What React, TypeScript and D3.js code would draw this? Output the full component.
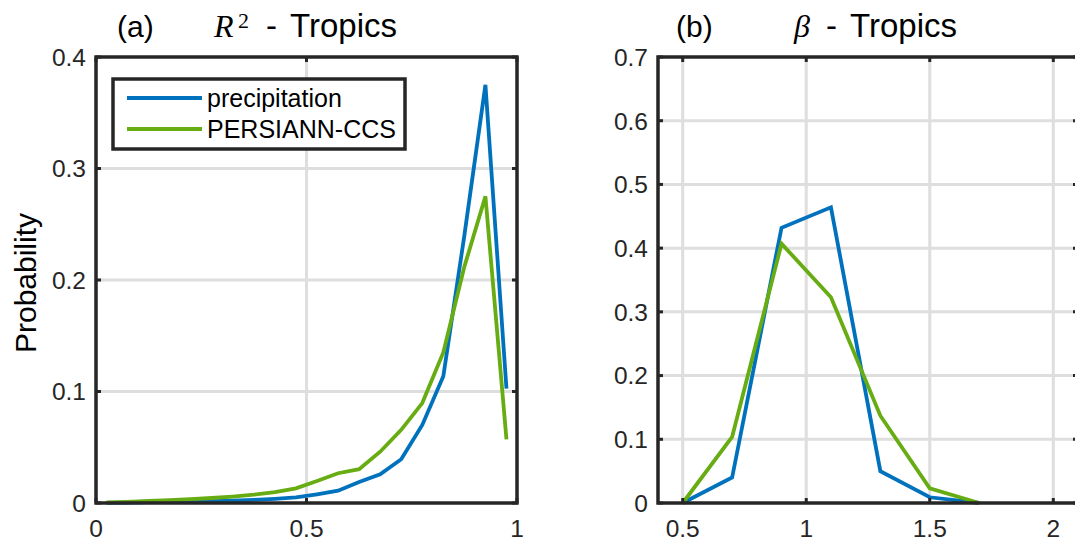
import React from "react";
import * as d3 from "d3";

// ---------- data ----------
const r2Bins = [0.025, 0.075, 0.125, 0.175, 0.225, 0.275, 0.325, 0.375, 0.425, 0.475, 0.525, 0.575, 0.625, 0.675, 0.725, 0.775, 0.825, 0.875, 0.925, 0.975];
const r2Precip = [0.0002, 0.0004, 0.0007, 0.001, 0.0013, 0.0017, 0.0022, 0.0028, 0.0037, 0.005, 0.0078, 0.011, 0.0189, 0.0258, 0.0393, 0.070, 0.1136, 0.24, 0.375, 0.1025];
const r2Persiann = [0.0005, 0.001, 0.0018, 0.0025, 0.0035, 0.0045, 0.0058, 0.0075, 0.0098, 0.0132, 0.0198, 0.0267, 0.0303, 0.046, 0.0656, 0.0896, 0.135, 0.212, 0.275, 0.057];

const betaBins = [0.5, 0.7, 0.9, 1.1, 1.3, 1.5, 1.7];
const betaPrecip = [0, 0.04, 0.432, 0.464, 0.05, 0.009, 0];
const betaPersiann = [0, 0.1036, 0.407, 0.323, 0.137, 0.023, 0];

const r2XTicks = [0, 0.5, 1];
const r2YTicks = [0, 0.1, 0.2, 0.3, 0.4];
const betaXTicks = [0.5, 1, 1.5, 2];
const betaYTicks = [0, 0.1, 0.2, 0.3, 0.4, 0.5, 0.6, 0.7];

const seriesNames = ["precipitation", "PERSIANN-CCS"];
const seriesColors = ["#0072BD", "#66AC12"];

// ---------- style ----------
const AX = "#262626";
const GRID = "#dedede";
const FONT = "'Liberation Sans', Arial, Helvetica, sans-serif";
const SERIF = "'Liberation Serif', 'Times New Roman', serif";
const TICK_FS = 24.5;
const TICK_LEN = 5;
const TITLE_FS = 33;

type PanelProps = {
  x0: number; x1: number; yTop: number; yBot: number;
  xDomain: [number, number]; yDomain: [number, number];
  xTicks: number[]; yTicks: number[];
  xs: number[]; series: number[][];
  id: string;
};

function Panel(p: PanelProps) {
  const x = d3.scaleLinear().domain(p.xDomain).range([p.x0, p.x1]);
  const y = d3.scaleLinear().domain(p.yDomain).range([p.yBot, p.yTop]);
  const line = d3.line<number>().x((_, i) => x(p.xs[i])).y((d) => y(d));
  const fmt = (v: number) => (v === 0 ? "0" : String(v));
  return (
    <g>
      <defs>
        <clipPath id={p.id}>
          <rect x={p.x0} y={p.yTop - 2} width={p.x1 - p.x0} height={p.yBot - p.yTop + 4} />
        </clipPath>
      </defs>
      {/* grid */}
      {p.xTicks.filter((t) => t > p.xDomain[0] && t < p.xDomain[1]).map((t) => (
        <line key={"gx" + t} x1={x(t)} x2={x(t)} y1={p.yTop} y2={p.yBot} stroke={GRID} strokeWidth={3} />
      ))}
      {p.yTicks.filter((t) => t > p.yDomain[0] && t < p.yDomain[1]).map((t) => (
        <line key={"gy" + t} x1={p.x0} x2={p.x1} y1={y(t)} y2={y(t)} stroke={GRID} strokeWidth={3} />
      ))}
      {/* data */}
      <g clipPath={`url(#${p.id})`}>
        {p.series.map((s, i) => (
          <path key={i} d={line(s) || ""} fill="none" stroke={seriesColors[i]} strokeWidth={3.8} strokeLinejoin="miter" />
        ))}
      </g>
      {/* ticks */}
      {p.xTicks.map((t) => (
        <g key={"tx" + t}>
          <line x1={x(t)} x2={x(t)} y1={p.yBot} y2={p.yBot - TICK_LEN} stroke={AX} strokeWidth={3} />
          <line x1={x(t)} x2={x(t)} y1={p.yTop} y2={p.yTop + TICK_LEN} stroke={AX} strokeWidth={3} />
          <text x={x(t)} y={p.yBot + 34} textAnchor="middle" fontFamily={FONT} fontSize={TICK_FS} fill={AX}>{fmt(t)}</text>
        </g>
      ))}
      {p.yTicks.map((t) => (
        <g key={"ty" + t}>
          <line x1={p.x0} x2={p.x0 + TICK_LEN} y1={y(t)} y2={y(t)} stroke={AX} strokeWidth={3} />
          <line x1={p.x1} x2={p.x1 - TICK_LEN} y1={y(t)} y2={y(t)} stroke={AX} strokeWidth={3} />
          <text x={p.x0 - 10} y={y(t)} dy="0.36em" textAnchor="end" fontFamily={FONT} fontSize={TICK_FS} fill={AX}>{fmt(t)}</text>
        </g>
      ))}
      {/* box */}
      <rect x={p.x0} y={p.yTop} width={p.x1 - p.x0} height={p.yBot - p.yTop} fill="none" stroke={AX} strokeWidth={3.5} />
    </g>
  );
}

export default function App() {
  return (
    <svg width={1075} height={548} style={{ position: "absolute", left: 0, top: 0, background: "#fff" }}>
      <rect width={1075} height={548} fill="#fff" />
      <Panel id="clipA" x0={96} x1={517} yTop={57} yBot={503}
        xDomain={[0, 1]} yDomain={[0, 0.4]}
        xTicks={r2XTicks} yTicks={r2YTicks}
        xs={r2Bins} series={[r2Precip, r2Persiann]} />
      <Panel id="clipB" x0={658} x1={1078} yTop={57} yBot={503}
        xDomain={[0.4, 2.1]} yDomain={[0, 0.7]}
        xTicks={betaXTicks} yTicks={betaYTicks}
        xs={betaBins} series={[betaPrecip, betaPersiann]} />

      {/* legend */}
      <g>
        <rect x={113} y={79} width={292} height={70} fill="#fff" stroke={AX} strokeWidth={3.5} />
        {seriesNames.map((n, i) => (
          <g key={n}>
            <line x1={127} x2={202} y1={98 + i * 31} y2={98 + i * 31} stroke={seriesColors[i]} strokeWidth={3.8} />
            <text x={207} y={98 + i * 31} dy="0.36em" fontFamily={FONT} fontSize={25} fill="#000">{n}</text>
          </g>
        ))}
      </g>

      {/* y label */}
      <text transform="translate(36,283) rotate(-90)" textAnchor="middle" fontFamily={FONT} fontSize={30} fill="#000">Probability</text>

      {/* titles */}
      <text x={117} y={37} fontFamily={FONT} fontSize={30} fill="#000">(a)</text>
      <text x={214} y={37} fontFamily={SERIF} fontStyle="italic" fontSize={32} fill="#000">R</text>
      <text x={238} y={28} fontFamily={SERIF} fontSize={22} fill="#000">2</text>
      <text x={266} y={37} fontFamily={FONT} fontSize={TITLE_FS} fill="#000">-</text>
      <text x={290} y={37} fontFamily={FONT} fontSize={TITLE_FS} fill="#000">Tropics</text>

      <text x={676} y={37} fontFamily={FONT} fontSize={30} fill="#000">(b)</text>
      <text x={794} y={37} fontFamily={SERIF} fontStyle="italic" fontSize={32} fill="#000">β</text>
      <text x={826} y={37} fontFamily={FONT} fontSize={TITLE_FS} fill="#000">-</text>
      <text x={850} y={37} fontFamily={FONT} fontSize={TITLE_FS} fill="#000">Tropics</text>
    </svg>
  );
}
